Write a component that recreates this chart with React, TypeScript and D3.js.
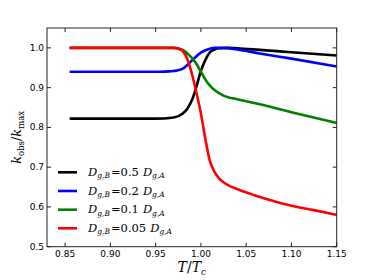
import React, { useEffect, useRef } from 'react';
import * as d3 from 'd3';

// Temperature samples (T / Tc) for each curve
const tBlack = [0.855, 0.95, 0.97, 0.98, 0.985, 0.99, 0.995, 1.0, 1.005, 1.01, 1.015, 1.02, 1.03, 1.04, 1.065, 1.1, 1.15];
const kBlack = [0.822, 0.822, 0.825, 0.835, 0.847, 0.868, 0.902, 0.942, 0.97, 0.989, 0.996, 0.999, 1.0, 0.999, 0.995, 0.989, 0.981];

const tBlue = [0.855, 0.955, 0.965, 0.975, 0.98, 0.985, 0.99, 0.995, 1.0, 1.005, 1.01, 1.015, 1.025, 1.04, 1.065, 1.1, 1.15];
const kBlue = [0.94, 0.94, 0.941, 0.944, 0.948, 0.957, 0.968, 0.979, 0.988, 0.994, 0.998, 1.0, 1.0, 0.996, 0.986, 0.973, 0.953];

const tGreen = [0.855, 0.97, 0.98, 0.985, 0.99, 0.995, 1.0, 1.005, 1.01, 1.015, 1.02, 1.025, 1.03, 1.04, 1.065, 1.1, 1.15];
const kGreen = [1.0, 1.0, 0.995, 0.986, 0.975, 0.96, 0.94, 0.92, 0.905, 0.894, 0.886, 0.88, 0.876, 0.871, 0.858, 0.838, 0.811];

const tRed = [0.855, 0.97, 0.975, 0.98, 0.985, 0.99, 0.995, 1.0, 1.005, 1.01, 1.015, 1.02, 1.025, 1.03, 1.04, 1.06, 1.08, 1.1, 1.125, 1.15];
const kRed = [1.0, 1.0, 0.998, 0.992, 0.972, 0.935, 0.888, 0.835, 0.77, 0.715, 0.688, 0.672, 0.662, 0.655, 0.645, 0.629, 0.615, 0.603, 0.592, 0.58];

const ratios = ['0.5', '0.2', '0.1', '0.05'];
const colors = ['#000000', '#0000ff', '#008000', '#ff0000'];

const xTicks = [0.85, 0.9, 0.95, 1.0, 1.05, 1.1, 1.15];
const yTicks = [0.5, 0.6, 0.7, 0.8, 0.9, 1.0];

function App() {
    const svgRef = useRef<SVGSVGElement>(null);

    useEffect(() => {
        const svg = d3.select(svgRef.current);
        svg.selectAll('*').remove();

        const left = 47, right = 336.7, top = 28, bottom = 246.7;

        const x = d3.scaleLinear().domain([0.83, 1.15]).range([left, right]);
        const y = d3.scaleLinear().domain([0.5, 1.05]).range([bottom, top]);

        const series = [
            { t: tBlack, k: kBlack },
            { t: tBlue, k: kBlue },
            { t: tGreen, k: kGreen },
            { t: tRed, k: kRed },
        ];

        const line = d3.line<[number, number]>()
            .x(d => x(d[0]))
            .y(d => y(d[1]))
            .curve(d3.curveMonotoneX);

        const plot = svg.append('g');
        series.forEach((s, i) => {
            const pts = s.t.map((t, j) => [t, s.k[j]] as [number, number]);
            plot.append('path')
                .datum(pts)
                .attr('fill', 'none')
                .attr('stroke', colors[i])
                .attr('stroke-width', 2.6)
                .attr('d', line);
        });

        // frame
        svg.append('rect')
            .attr('x', left).attr('y', top)
            .attr('width', right - left).attr('height', bottom - top)
            .attr('fill', 'none').attr('stroke', '#222').attr('stroke-width', 1);

        // ticks point inward, on all four sides
        const tickLen = 4;
        const font = 'DejaVu Sans, sans-serif';
        xTicks.forEach(v => {
            const px = x(v);
            svg.append('line').attr('x1', px).attr('x2', px).attr('y1', bottom).attr('y2', bottom - tickLen).attr('stroke', '#222');
            svg.append('line').attr('x1', px).attr('x2', px).attr('y1', top).attr('y2', top + tickLen).attr('stroke', '#222');
            svg.append('text').attr('x', px).attr('y', bottom + 10.5)
                .attr('text-anchor', 'middle').attr('font-family', font).attr('font-size', 9)
                .attr('fill', '#000').text(d3.format('.2f')(v));
        });
        yTicks.forEach(v => {
            const py = y(v);
            svg.append('line').attr('x1', left).attr('x2', left + tickLen).attr('y1', py).attr('y2', py).attr('stroke', '#222');
            svg.append('line').attr('x1', right).attr('x2', right - tickLen).attr('y1', py).attr('y2', py).attr('stroke', '#222');
            svg.append('text').attr('x', left - 3).attr('y', py + 3)
                .attr('text-anchor', 'end').attr('font-family', font).attr('font-size', 9)
                .attr('fill', '#000').text(d3.format('.1f')(v));
        });

        const serif = 'DejaVu Serif, serif';

        // x label: T/T_c
        const xl = svg.append('text')
            .attr('x', (left + right) / 2).attr('y', 272)
            .attr('text-anchor', 'middle').attr('font-family', serif).attr('font-size', 14);
        xl.append('tspan').attr('font-style', 'italic').text('T');
        xl.append('tspan').text('/');
        xl.append('tspan').attr('font-style', 'italic').text('T');
        xl.append('tspan').attr('font-size', 9).attr('dy', 3).text('c');

        // y label: k_obs/k_max
        const yl = svg.append('text')
            .attr('transform', `translate(21,${(top + bottom) / 2}) rotate(-90)`)
            .attr('text-anchor', 'middle').attr('font-family', serif).attr('font-size', 13);
        yl.append('tspan').attr('font-style', 'italic').text('k');
        yl.append('tspan').attr('font-size', 8.5).attr('dy', 3).text('obs');
        yl.append('tspan').attr('dy', -3).text('/');
        yl.append('tspan').attr('font-style', 'italic').text('k');
        yl.append('tspan').attr('font-size', 8.5).attr('dy', 3).text('max');

        // legend
        const legY = [172.3, 191, 209.7, 228.3];
        ratios.forEach((r, i) => {
            const ly = legY[i];
            svg.append('line').attr('x1', 58).attr('x2', 77).attr('y1', ly).attr('y2', ly)
                .attr('stroke', colors[i]).attr('stroke-width', 2.6);
            const t = svg.append('text').attr('x', 88).attr('y', ly + 3.5)
                .attr('font-family', serif).attr('font-size', 11.5);
            t.append('tspan').attr('font-style', 'italic').text('D');
            t.append('tspan').attr('font-style', 'italic').attr('font-size', 7.5).attr('dy', 2.5).text('g,B');
            t.append('tspan').attr('dy', -2.5).attr('dx', 1).text(`=${r}`);
            t.append('tspan').attr('font-style', 'italic').attr('dx', 4).text('D');
            t.append('tspan').attr('font-style', 'italic').attr('font-size', 7.5).attr('dy', 2.5).text('g,A');
        });
    }, []);

    return (
        <svg ref={svgRef} width={374} height={280}
            style={{ position: 'absolute', left: 0, top: 0, background: '#fff' }} />
    );
}

export default App;
